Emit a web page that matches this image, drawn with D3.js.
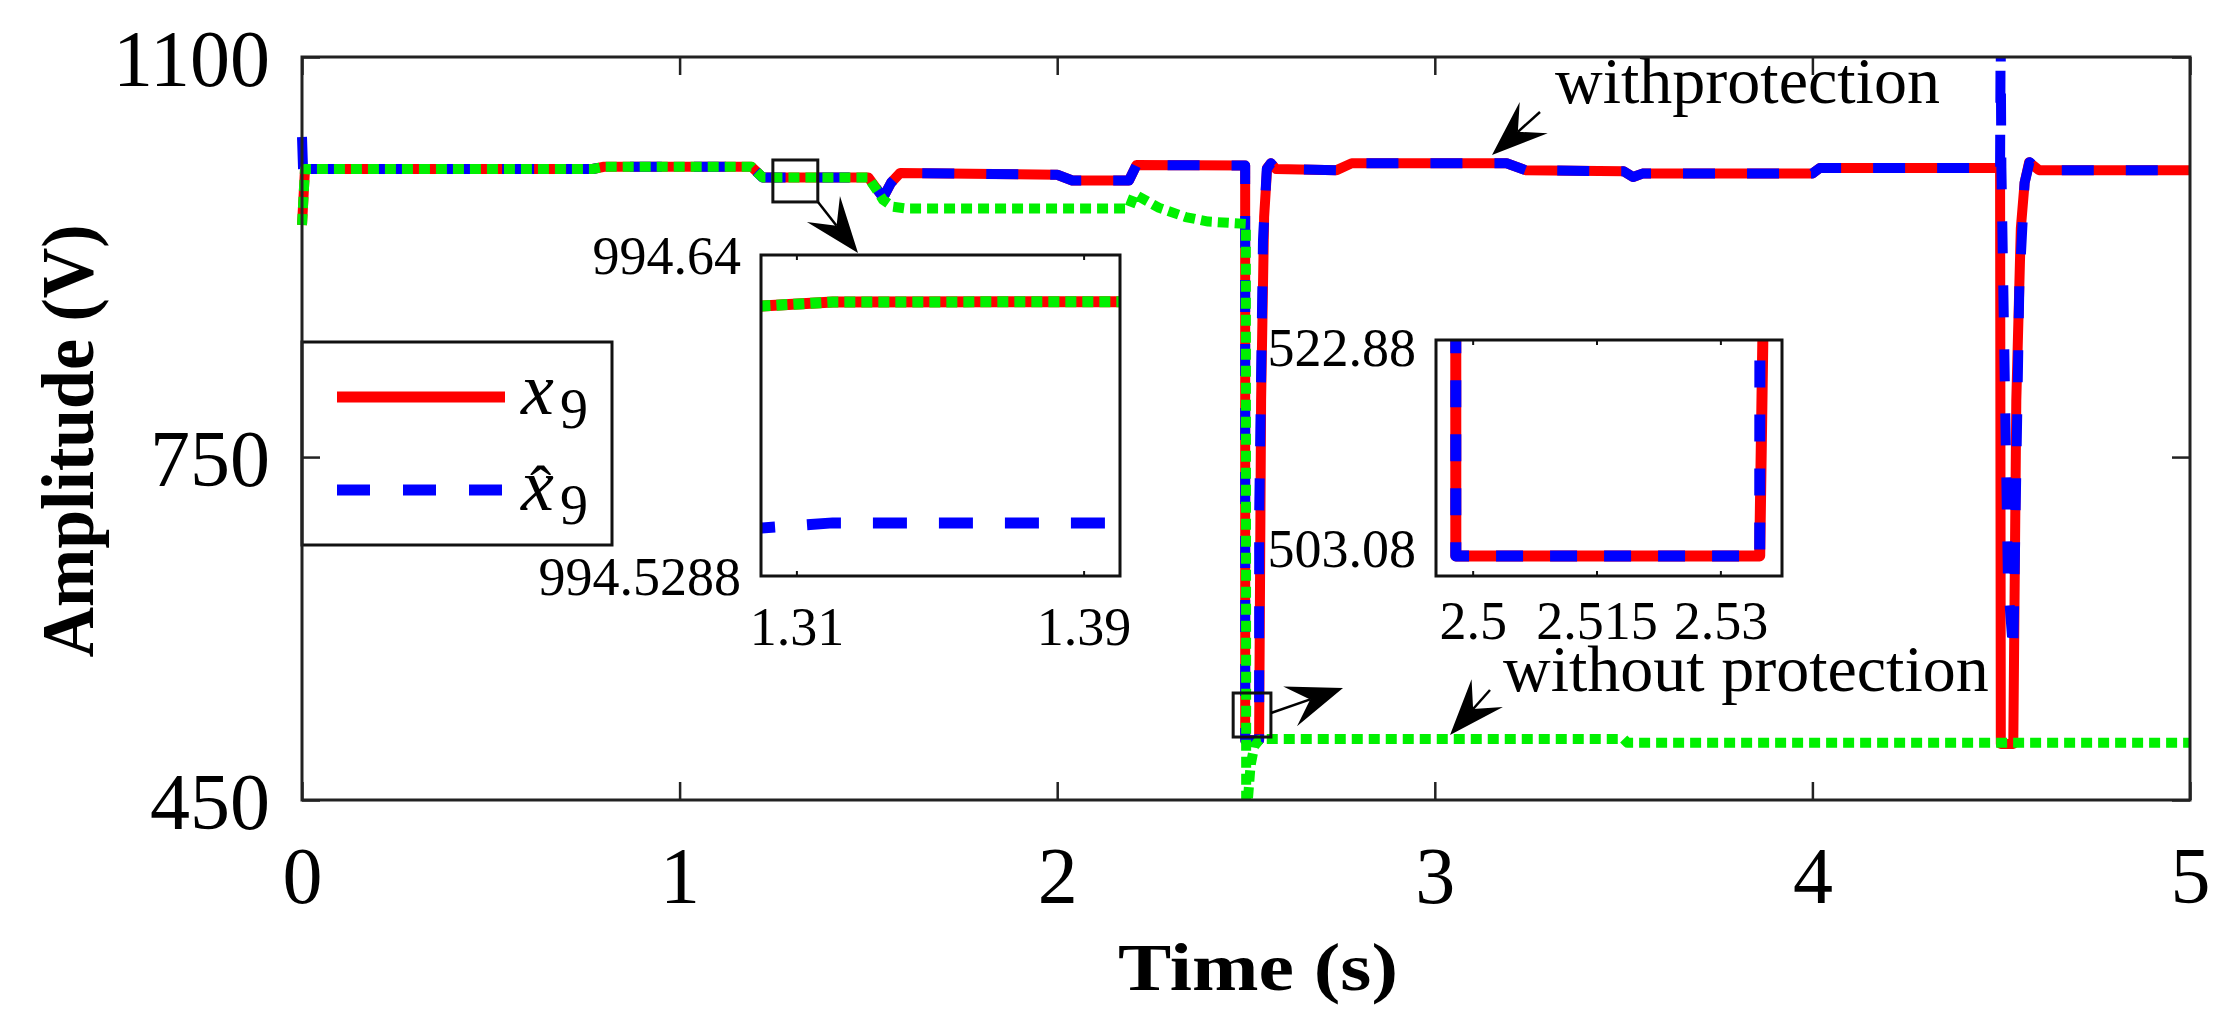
<!DOCTYPE html>
<html><head><meta charset="utf-8">
<script src="https://cdn.jsdelivr.net/npm/d3@7"></script>
<style>
body{margin:0;background:#fff}
svg{display:block}
text{font-family:"Liberation Serif","Times New Roman",serif;fill:#000}
</style>
</head><body>
<svg id="c" width="2229" height="1029"></svg>
<script>
// ---------------- data ----------------
const xTicks = [0, 1, 2, 3, 4, 5];
const yTicks = [450, 750, 1100];
const inset1XTicks = [1.31, 1.39];
const inset1YTicks = [994.5288, 994.64];
const inset1YLabels = ["994.5288", "994.64"];
const inset2XTicks = [2.5, 2.515, 2.53];
const inset2XLabels = ["2.5", "2.515", "2.53"];
const inset2YTicks = [503.08, 522.88];
const inset2YLabels = ["503.08", "522.88"];

// x9 (true state, with protection)
const tX9 = [0,0.008,0.77,0.80,1.19,1.22,1.30,1.32,1.50,1.539,1.56,1.584,2.00,2.04,2.19,2.21,2.4978,2.4979,2.5347,2.540,2.548,2.556,2.566,2.58,2.74,2.78,3.19,3.24,3.50,3.525,3.55,4.00,4.02,4.497,4.499,4.532,4.540,4.552,4.562,4.574,4.60,5.0];
const vX9 = [953,1002,1002,1004,1004,994.62,994.6223,994.6237,994.624,977,990,998.5,997,992,992,1005.5,1005,502.3,502.3,800,960,1003,1007,1002,1001,1007,1007,1001,1000,995,998,998,1003,1003,499,499,800,950,990,1008,1001,1001];

// x9 hat (estimate)
const tHat = [0,0.004,0.01,0.77,0.80,1.19,1.22,1.30,1.32,1.50,1.539,1.56,1.584,2.00,2.04,2.19,2.21,2.4978,2.4979,2.5347,2.5349,2.545,2.555,2.566,2.58,2.74,2.78,3.19,3.24,3.50,3.525,3.55,4.00,4.02,4.497,4.4985,4.5005,4.518,4.532,4.548,4.562,4.575,4.60,5.0];
const vHat = [1030,990,1002,1002,1004,1004,994.545,994.5454,994.5472,994.5472,977,990,998.5,997,992,992,1005.5,1005,502.3,502.3,700,940,1002,1007,1002,1001,1007,1007,1001,1000,995,998,998,1003,1003,1120,1003,640,578,900,990,1008,1001,1001];

// without protection
const tNoProt = [0,0.008,0.77,0.80,1.19,1.22,1.30,1.32,1.50,1.539,1.565,1.60,2.19,2.205,2.27,2.34,2.40,2.4995,2.5005,2.505,2.512,2.522,2.535,2.55,3.50,3.51,5.0];
const vNoProt = [953,1002,1002,1004,1004,994.62,994.6223,994.6237,994.624,975,969,967.5,967.5,980,968,960,956,954,440,450,480,497,502.5,503.4,503.4,500,500];

// ---------------- layout ----------------
const svg = d3.select("#c");
svg.append("rect").attr("width",2229).attr("height",1029).attr("fill","#fff");
const P = {l:302, r:2190, t:57, b:800};
const x = d3.scaleLinear().domain([0,5]).range([P.l,P.r]);
const y = d3.scaleLinear().domain([450,1100]).range([P.b,P.t]);

const defs = svg.append("defs");
defs.append("clipPath").attr("id","mainClip").append("rect")
  .attr("x",P.l-6).attr("y",P.t).attr("width",P.r-P.l+12).attr("height",P.b-P.t);

const zip = (ts,vs)=>ts.map((t,i)=>({t:t,v:vs[i]}));
const sX9 = zip(tX9,vX9), sHat = zip(tHat,vHat), sNo = zip(tNoProt,vNoProt);

const RED="#ff0000", BLUE="#0000ff", GREEN="#00f000";
function drawSeries(g, xs, ys, lw, dashB, dashG, withGreen){
  const line = d3.line().x(d=>xs(d.t)).y(d=>ys(d.v));
  g.append("path").datum(sX9).attr("d",line).attr("fill","none").attr("stroke",RED).attr("stroke-width",lw).attr("stroke-linejoin","round");
  g.append("path").datum(sHat).attr("d",line).attr("fill","none").attr("stroke",BLUE).attr("stroke-width",lw).attr("stroke-dasharray",dashB).attr("stroke-linejoin","round");
  if (withGreen)
    g.append("path").datum(sNo).attr("d",line).attr("fill","none").attr("stroke",GREEN).attr("stroke-width",lw).attr("stroke-dasharray",dashG).attr("stroke-linejoin","round");
}
const gMain = svg.append("g").attr("clip-path","url(#mainClip)");
drawSeries(gMain, x, y, 10, "32,32", "11,6", true);

// zoom marker boxes (data coords)
const boxes = [{t0:1.247,t1:1.366,v0:973.2,v1:1009.9},{t0:2.466,t1:2.566,v0:505.1,v1:543.6}];
svg.selectAll(".zbox").data(boxes).enter().append("rect")
  .attr("x",d=>x(d.t0)).attr("y",d=>y(d.v1))
  .attr("width",d=>x(d.t1)-x(d.t0)).attr("height",d=>y(d.v0)-y(d.v1))
  .attr("fill","none").attr("stroke","#111").attr("stroke-width",3);

// ---------------- insets ----------------
function inset(id, box, xd, yd, xt, xl, yt, yl, dashB, withGreen, xlOff){
  const xs = d3.scaleLinear().domain(xd).range([box.x0,box.x1]);
  const ys = d3.scaleLinear().domain(yd).range([box.y1,box.y0]);
  defs.append("clipPath").attr("id",id).append("rect")
    .attr("x",box.x0).attr("y",box.y0).attr("width",box.x1-box.x0).attr("height",box.y1-box.y0);
  const g = svg.append("g");
  g.append("rect").attr("x",box.x0).attr("y",box.y0).attr("width",box.x1-box.x0).attr("height",box.y1-box.y0).attr("fill","#fff");
  drawSeries(g.append("g").attr("clip-path",`url(#${id})`), xs, ys, 11, dashB, "11,6", withGreen);
  g.append("rect").attr("x",box.x0).attr("y",box.y0).attr("width",box.x1-box.x0).attr("height",box.y1-box.y0)
    .attr("fill","none").attr("stroke","#111").attr("stroke-width",3);
  xt.forEach((t)=>{
    g.append("line").attr("x1",xs(t)).attr("x2",xs(t)).attr("y1",box.y1).attr("y2",box.y1-5).attr("stroke","#111").attr("stroke-width",2);
    g.append("line").attr("x1",xs(t)).attr("x2",xs(t)).attr("y1",box.y0).attr("y2",box.y0+5).attr("stroke","#111").attr("stroke-width",2);
  });
  g.selectAll(".ixl").data(xt).enter().append("text")
    .attr("x",d=>xs(d)).attr("y",box.y1+xlOff).attr("dy","0.35em")
    .attr("text-anchor","middle").attr("font-size",54).text((d,i)=>xl[i]);
  g.selectAll(".iyl").data(yt).enter().append("text")
    .attr("x",box.x0-20).attr("y",d=>ys(d)).attr("dy","0.35em")
    .attr("text-anchor","end").attr("font-size",54).text((d,i)=>yl[i]);
}
inset("in1",{x0:761,x1:1120,y0:255,y1:576},[1.3,1.4],[994.5288,994.64],
  inset1XTicks, inset1XTicks.map(String), inset1YTicks, inset1YLabels, "34,32", true, 50);
inset("in2",{x0:1436,x1:1782,y0:340,y1:576},[2.4955,2.5374],[500.32,523.57],
  inset2XTicks, inset2XLabels, inset2YTicks, inset2YLabels, "27,27", false, 44);

// ---------------- arrows ----------------
function arrow(p0,p1){
  const dx=p1[0]-p0[0], dy=p1[1]-p0[1], len=Math.hypot(dx,dy);
  const ux=dx/len, uy=dy/len, nx=-uy, ny=ux;
  const L=56, W=21;
  const bx=p1[0]-ux*L, by=p1[1]-uy*L;
  const notch=[p1[0]-ux*L*0.62, p1[1]-uy*L*0.62];
  svg.append("line").attr("x1",p0[0]).attr("y1",p0[1]).attr("x2",notch[0]).attr("y2",notch[1])
    .attr("stroke","#000").attr("stroke-width",2.5);
  svg.append("path").attr("d",`M${p1[0]},${p1[1]}L${bx+nx*W},${by+ny*W}L${notch[0]},${notch[1]}L${bx-nx*W},${by-ny*W}Z`)
    .attr("fill","#000");
}
const arrows = [
  {t0:1.3665,v0:973.15,t1:1.4725,v1:928.53},
  {t0:2.5662,v0:526.1,t1:2.7569,v1:547.98},
  {t0:3.2786,v0:1051.9,t1:3.1515,v1:1014.27},
  {t0:3.1462,v0:546.2,t1:3.0403,v1:506.9}
];
arrows.forEach(a=>arrow([x(a.t0),y(a.v0)],[x(a.t1),y(a.v1)]));

svg.append("text").attr("x",x(3.3183)).attr("y",y(1059.76)).attr("font-size",66).text("withprotection");
svg.append("text").attr("x",x(3.1806)).attr("y",y(545.5)).attr("font-size",66).text("without protection");

// ---------------- legend ----------------
const lg = svg.append("g");
lg.append("rect").attr("x",302).attr("y",342).attr("width",310).attr("height",203)
  .attr("fill","#fff").attr("stroke","#111").attr("stroke-width",3);
lg.append("line").attr("x1",337).attr("x2",505).attr("y1",397).attr("y2",397).attr("stroke",RED).attr("stroke-width",11);
lg.append("line").attr("x1",337).attr("x2",505).attr("y1",490).attr("y2",490).attr("stroke",BLUE).attr("stroke-width",11).attr("stroke-dasharray","33,33");
const t1 = lg.append("text").attr("x",521).attr("y",414).attr("font-size",74);
t1.append("tspan").attr("font-style","italic").text("x");
t1.append("tspan").attr("x",560).attr("y",428).attr("font-size",56).text("9");
const t2 = lg.append("text").attr("x",521).attr("y",510).attr("font-size",74);
t2.append("tspan").attr("font-style","italic").text("x");
t2.append("tspan").attr("x",530).attr("y",510).attr("font-size",64).text("\u02C6");
t2.append("tspan").attr("x",560).attr("y",524).attr("font-size",56).text("9");

// ---------------- axes ----------------
const ax = svg.append("g");
ax.append("rect").attr("x",P.l).attr("y",P.t).attr("width",P.r-P.l).attr("height",P.b-P.t)
  .attr("fill","none").attr("stroke","#222").attr("stroke-width",3);
const gx = ax.append("g").attr("transform",`translate(0,${P.b})`)
  .call(d3.axisBottom(x).tickValues(xTicks).tickSizeInner(-18).tickSizeOuter(0).tickPadding(0).tickFormat(d3.format("d")));
gx.select(".domain").remove();
gx.selectAll(".tick line").attr("stroke","#222").attr("stroke-width",2.5);
gx.selectAll(".tick text").attr("font-family","Liberation Serif").attr("font-size",80).attr("y",75).attr("dy","0.35em").attr("fill","#000");
const gxt = ax.append("g").attr("transform",`translate(0,${P.t})`)
  .call(d3.axisTop(x).tickValues(xTicks).tickSizeInner(-18).tickSizeOuter(0).tickFormat(""));
gxt.select(".domain").remove();
gxt.selectAll(".tick line").attr("stroke","#222").attr("stroke-width",2.5);
const gy = ax.append("g").attr("transform",`translate(${P.l},0)`)
  .call(d3.axisLeft(y).tickValues(yTicks).tickSizeInner(-18).tickSizeOuter(0).tickPadding(0).tickFormat(d3.format("d")));
gy.select(".domain").remove();
gy.selectAll(".tick line").attr("stroke","#222").attr("stroke-width",2.5);
gy.selectAll(".tick text").attr("font-family","Liberation Serif").attr("font-size",80).attr("x",-32).attr("dy","0.35em").attr("fill","#000");
const gyr = ax.append("g").attr("transform",`translate(${P.r},0)`)
  .call(d3.axisRight(y).tickValues(yTicks).tickSizeInner(-18).tickSizeOuter(0).tickFormat(""));
gyr.select(".domain").remove();
gyr.selectAll(".tick line").attr("stroke","#222").attr("stroke-width",2.5);

svg.append("text").attr("x",1258).attr("y",990).attr("text-anchor","middle")
  .attr("font-size",68).attr("font-weight","bold").attr("textLength",280).attr("lengthAdjust","spacingAndGlyphs").text("Time (s)");
svg.append("text").attr("transform","translate(93,441) rotate(-90)").attr("text-anchor","middle")
  .attr("font-size",74).attr("font-weight","bold").attr("textLength",433).attr("lengthAdjust","spacingAndGlyphs").text("Amplitude (V)");
</script>
</body></html>
